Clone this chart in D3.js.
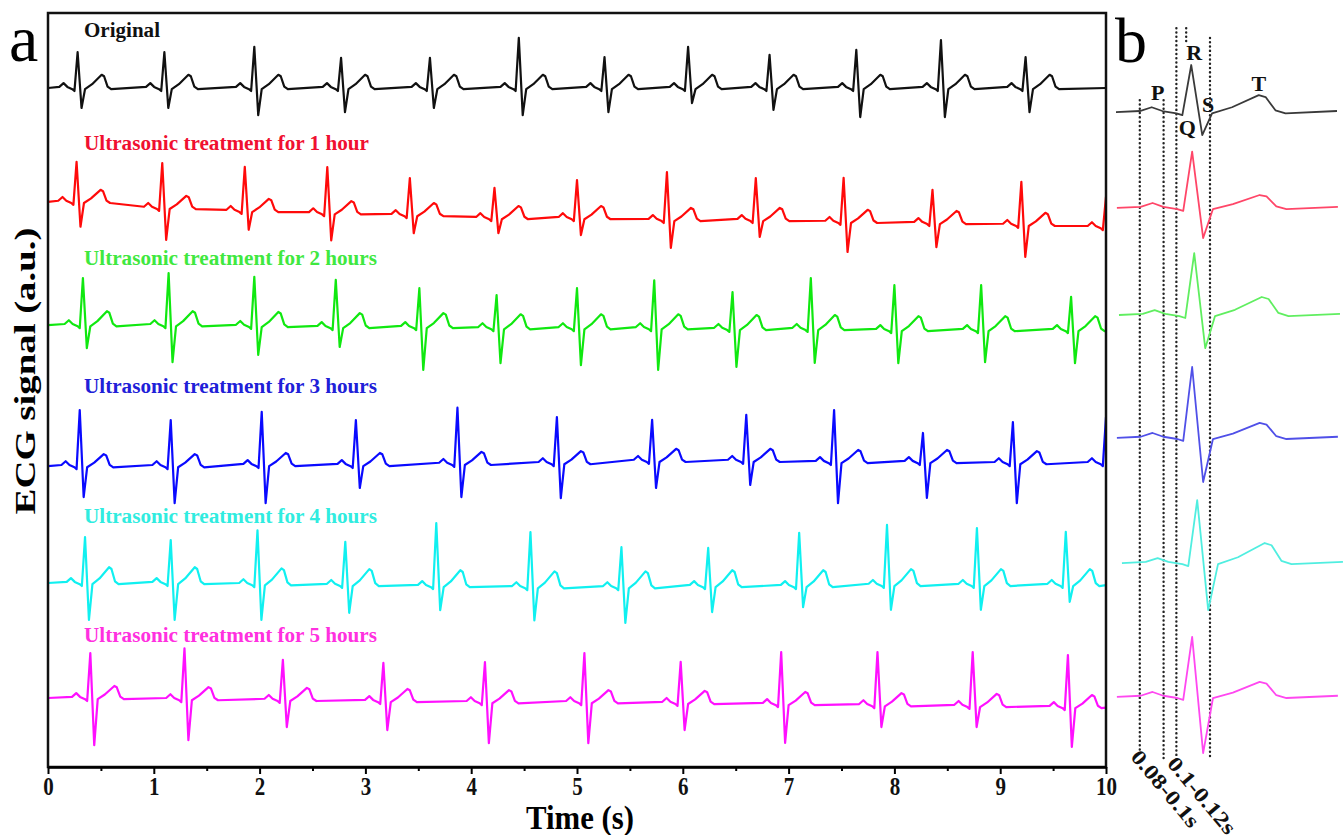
<!DOCTYPE html>
<html>
<head>
<meta charset="utf-8">
<script src="https://cdn.jsdelivr.net/npm/d3@7"></script>
<style>
  body { margin: 0; background: #fff; }
  text { font-family: "Liberation Serif", "Times New Roman", serif; }
</style>
</head>
<body>
<svg id="chart" width="1343" height="835"></svg>
<script>
// one heart beat, time relative to the R peak (s) and level (a.u.)
const beatOffsets = [-0.253, -0.173, -0.133, -0.097, -0.05, -0.03, 0, 0.037, 0.07, 0.137, 0.227, 0.25, 0.283, 0.317, 0.49];
const beatLevels  = [0, 0.03, 0.13, 0.03, -0.03, -0.08, 0, 0, -0.03, 0.13, 0.45, 0.4, 0.05, -0.03, 0.03];
const beatRoles   = ["", "", "", "", "", "", "R", "S", "", "T", "T", "T", "T", "", ""];

const seriesNames = [
  "Original",
  "Ultrasonic treatment for 1 hour",
  "Ultrasonic treatment for 2 hours",
  "Ultrasonic treatment for 3 hours",
  "Ultrasonic treatment for 4 hours",
  "Ultrasonic treatment for 5 hours",
];
const lineColors  = ["#111111", "#ff0a0a", "#10e810", "#0a0aff", "#10f0f0", "#ff10ff"];
const labelColors = ["#111111", "#f01030", "#40e840", "#2020d8", "#30ece0", "#ff30e0"];
const zoomColors  = ["#3a3a3a", "#ff4668", "#60ee60", "#5050e8", "#50eee0", "#ff48f0"];

// R peak times (s) of every beat in panel a
const rTimes = [
  [0.28, 1.10, 1.95, 2.77, 3.61, 4.45, 5.26, 6.05, 6.82, 7.64, 8.44, 9.24],
  [0.27, 1.08, 1.86, 2.64, 3.42, 4.22, 5.00, 5.85, 6.69, 7.52, 8.36, 9.20, 10.0],
  [0.33, 1.14, 1.95, 2.72, 3.51, 4.24, 5.00, 5.73, 6.47, 7.21, 8.00, 8.82, 9.67],
  [0.30, 1.16, 2.02, 2.91, 3.87, 4.81, 5.71, 6.60, 7.43, 8.27, 9.12, 10.0],
  [0.35, 1.16, 1.98, 2.81, 3.67, 4.56, 5.42, 6.24, 7.10, 7.93, 8.78, 9.62],
  [0.40, 1.29, 2.22, 3.17, 4.13, 5.07, 5.98, 6.93, 7.84, 8.74, 9.64],
];
// R height above the baseline (a.u.)
const rHeights = [
  [0.95, 0.95, 1.09, 0.80, 0.80, 1.33, 0.82, 1.09, 0.88, 1.01, 1.27, 0.82],
  [1.06, 1.19, 1.17, 1.22, 0.98, 0.80, 1.01, 1.27, 1.11, 1.17, 0.88, 1.14, 0.80],
  [1.25, 1.38, 1.30, 1.25, 1.03, 0.88, 1.06, 1.27, 0.98, 1.35, 1.19, 1.19, 0.88],
  [1.49, 1.22, 1.41, 1.19, 1.49, 1.22, 1.09, 1.22, 1.38, 0.77, 1.09, 1.22],
  [1.22, 1.14, 1.43, 1.14, 1.67, 1.46, 1.06, 1.01, 1.41, 1.59, 1.51, 1.41],
  [1.19, 1.35, 1.06, 1.01, 1.06, 1.30, 1.09, 1.38, 1.41, 1.43, 1.38],
];
// S depth below the baseline (a.u.)
const sDepths = [
  [0.53, 0.53, 0.72, 0.64, 0.53, 0.72, 0.64, 0.40, 0.58, 0.77, 0.77, 0.64],
  [0.66, 0.85, 0.50, 0.72, 0.48, 0.40, 0.45, 0.74, 0.45, 0.80, 0.64, 0.85, 0.50],
  [0.61, 0.98, 0.77, 0.53, 1.14, 0.93, 0.98, 1.11, 1.01, 0.90, 0.88, 0.85, 0.88],
  [0.82, 0.98, 1.01, 0.61, 0.88, 0.93, 0.72, 0.64, 1.09, 0.95, 1.06, 0.98],
  [0.98, 0.98, 0.95, 0.74, 0.64, 0.88, 0.95, 0.69, 0.56, 0.66, 0.66, 0.45],
  [1.25, 1.09, 0.72, 0.77, 1.09, 1.09, 0.72, 1.03, 0.58, 0.56, 1.06],
];
// baseline level of every beat, stacked offsets included (a.u.)
const baselines = [
  [18.01, 18.01, 18.01, 18.01, 18.01, 18.01, 18.01, 18.01, 18.01, 18.01, 18.01, 18.01],
  [14.99, 14.83, 14.75, 14.69, 14.64, 14.56, 14.56, 14.51, 14.51, 14.46, 14.43, 14.38, 14.32],
  [11.72, 11.72, 11.70, 11.67, 11.67, 11.64, 11.64, 11.64, 11.62, 11.62, 11.59, 11.59, 11.59],
  [7.98, 7.98, 8.01, 8.01, 8.04, 8.06, 8.12, 8.12, 8.09, 8.09, 8.06, 8.06],
  [4.88, 4.88, 4.85, 4.83, 4.80, 4.77, 4.77, 4.80, 4.80, 4.83, 4.83, 4.83],
  [1.83, 1.80, 1.78, 1.75, 1.72, 1.72, 1.70, 1.67, 1.64, 1.62, 1.59],
];
const tScaleA = [0.78, 0.71, 0.82, 0.71, 0.93, 0.71]; // T wave size in panel a

// panel b: single beat of each recording
const zoomBase  = [17.37, 14.83, 11.99, 8.73, 5.41, 1.86];
const zoomR     = [1.25, 1.49, 1.64, 1.88, 1.67, 1.59];
const zoomS     = [0.61, 0.80, 0.88, 1.17, 1.25, 1.49];
const zoomT     = [1.0, 0.76, 1.06, 0.88, 1.18, 0.88];
const zoomShift = [0, 0.003, 0.01, 0.003, 0.02, 0.003];

const waveLabels = [
  { text: "P", t: -0.113, v: 17.69 },
  { text: "R", t: 0.01, v: 18.75 },
  { text: "Q", t: -0.013, v: 16.76 },
  { text: "S", t: 0.057, v: 17.37 },
  { text: "T", t: 0.227, v: 17.93 },
];
// dotted interval marks in panel b (time, top, bottom)
const intervalMarks = [
  { t: -0.173, top: 17.69, bottom: 0.37 },
  { t: -0.093, top: 17.69, bottom: 0.19 },
  { t: -0.05, top: 19.6, bottom: 0.19 },
  { t: -0.017, top: 19.6, bottom: 19.15 },
  { t: 0.063, top: 19.34, bottom: 0.19 },
];
const intervalTexts = ["0.08-0.1s", "0.1-0.12s"];

const labelLift = [51, 52, 60, 73, 60, 56]; // px above the trace baseline

const svg = d3.select("#chart");

const xA = d3.scaleLinear().domain([0, 10]).range([48, 1106]);
const xB = d3.scaleLinear().domain([-0.253, 0.49]).range([1116, 1337]);
const y = d3.scaleLinear().domain([0, 20]).range([767, 13]);

// clip panel a traces to its frame
svg.append("clipPath").attr("id", "clipA")
  .append("rect")
  .attr("x", xA(0)).attr("y", y(20))
  .attr("width", xA(10) - xA(0)).attr("height", y(0) - y(20));

// level of one template point for a beat
function pointLevel(j, r, s, tScale) {
  if (beatRoles[j] == "R") return r;
  if (beatRoles[j] == "S") return -s;
  if (beatRoles[j] == "T") return beatLevels[j] * tScale;
  return beatLevels[j];
}

// build the polyline of one recording from its beats
function tracePoints(i) {
  const pts = [[0, baselines[i][0]]];
  rTimes[i].forEach((tb, k) => {
    for (let j = 1; j <= 13; j++) {
      pts.push([tb + beatOffsets[j], baselines[i][k] + pointLevel(j, rHeights[i][k], sDepths[i][k], tScaleA[i])]);
    }
  });
  const last = rTimes[i].length - 1;
  pts.push([Math.max(10, rTimes[i][last] + 0.4), baselines[i][last]]);
  return pts;
}

const lineA = d3.line().x(d => xA(d[0])).y(d => y(d[1]));
const lineB = d3.line().x(d => xB(d[0])).y(d => y(d[1]));

const gA = svg.append("g").attr("clip-path", "url(#clipA)");
seriesNames.forEach((name, i) => {
  gA.append("path")
    .attr("d", lineA(tracePoints(i)))
    .attr("fill", "none")
    .attr("stroke", lineColors[i])
    .attr("stroke-width", 2.2)
    .attr("stroke-linejoin", "round");

  svg.append("text")
    .attr("x", 84)
    .attr("y", y(baselines[i][0]) - labelLift[i])
    .attr("font-size", 20)
    .attr("font-weight", 700)
    .attr("fill", labelColors[i])
    .attr("textLength", i == 0 ? 76 : (i == 1 ? 285 : 293))
    .attr("lengthAdjust", "spacingAndGlyphs")
    .text(name);
});

// frame of panel a
svg.append("rect")
  .attr("x", xA(0)).attr("y", y(20))
  .attr("width", xA(10) - xA(0)).attr("height", y(0) - y(20))
  .attr("fill", "none").attr("stroke", "#111").attr("stroke-width", 2.5);

// x axis with minor ticks
const xAxis = svg.append("g")
  .attr("transform", `translate(0,${y(0)})`)
  .call(d3.axisBottom(xA).ticks(10).tickSize(7).tickSizeOuter(0));
xAxis.select(".domain").attr("stroke-width", 2.5);
xAxis.selectAll(".tick line").attr("stroke-width", 2);
xAxis.selectAll(".tick text")
  .attr("y", 0).attr("dy", 0)
  .attr("transform", "translate(0,28) scale(1,1.2)")
  .attr("font-size", 21)
  .attr("font-weight", 700)
  .attr("font-family", "Liberation Serif, serif")
  .attr("fill", "#111");

const minor = svg.append("g")
  .attr("transform", `translate(0,${y(0)})`)
  .call(d3.axisBottom(xA).tickValues(d3.range(0.5, 10, 1)).tickSize(4).tickFormat(""));
minor.select(".domain").remove();
minor.selectAll(".tick line").attr("stroke-width", 2);

svg.append("text")
  .attr("transform", "translate(580,829) scale(1,1.12)")
  .attr("text-anchor", "middle")
  .attr("font-size", 30)
  .attr("font-weight", 700)
  .attr("textLength", 108)
  .attr("lengthAdjust", "spacingAndGlyphs")
  .text("Time (s)");

svg.append("text")
  .attr("transform", "translate(35,371) rotate(-90)")
  .attr("text-anchor", "middle")
  .attr("font-size", 30)
  .attr("font-weight", 700)
  .attr("textLength", 287)
  .attr("lengthAdjust", "spacingAndGlyphs")
  .text("ECG signal (a.u.)");

// panel letters
svg.append("text").attr("x", 9).attr("y", 61).attr("font-size", 66).text("a");
svg.append("text").attr("x", 1115).attr("y", 62).attr("font-size", 64).text("b");

// panel b dotted interval marks
svg.append("g").selectAll("line")
  .data(intervalMarks)
  .join("line")
  .attr("x1", d => xB(d.t)).attr("x2", d => xB(d.t))
  .attr("y1", d => y(d.top)).attr("y2", d => y(d.bottom))
  .attr("stroke", "#222")
  .attr("stroke-width", 2.4)
  .attr("stroke-linecap", "round")
  .attr("stroke-dasharray", "0.1,4.2");

// panel b single beats
seriesNames.forEach((name, i) => {
  const pts = beatOffsets.map((dt, j) => [dt + zoomShift[i], zoomBase[i] + pointLevel(j, zoomR[i], zoomS[i], zoomT[i])]);
  svg.append("path")
    .attr("d", lineB(pts))
    .attr("fill", "none")
    .attr("stroke", zoomColors[i])
    .attr("stroke-width", 1.8)
    .attr("stroke-linejoin", "round");
});

svg.append("g").selectAll("text")
  .data(waveLabels)
  .join("text")
  .attr("x", d => xB(d.t))
  .attr("y", d => y(d.v))
  .attr("text-anchor", "middle")
  .attr("font-size", 22)
  .attr("font-weight", 700)
  .attr("fill", "#111")
  .text(d => d.text);

// rotated interval texts under the marks
intervalTexts.forEach((txt, k) => {
  const m = k == 0 ? intervalMarks[0] : intervalMarks[2];
  svg.append("text")
    .attr("transform", `translate(${xB(m.t) + 2},${y(m.bottom) - 6}) rotate(50)`)
    .attr("font-size", 21)
    .attr("font-weight", 700)
    .attr("fill", "#111")
    .attr("textLength", 94)
    .attr("lengthAdjust", "spacingAndGlyphs")
    .attr("dy", "0.75em")
    .text(txt);
});
</script>
</body>
</html>
